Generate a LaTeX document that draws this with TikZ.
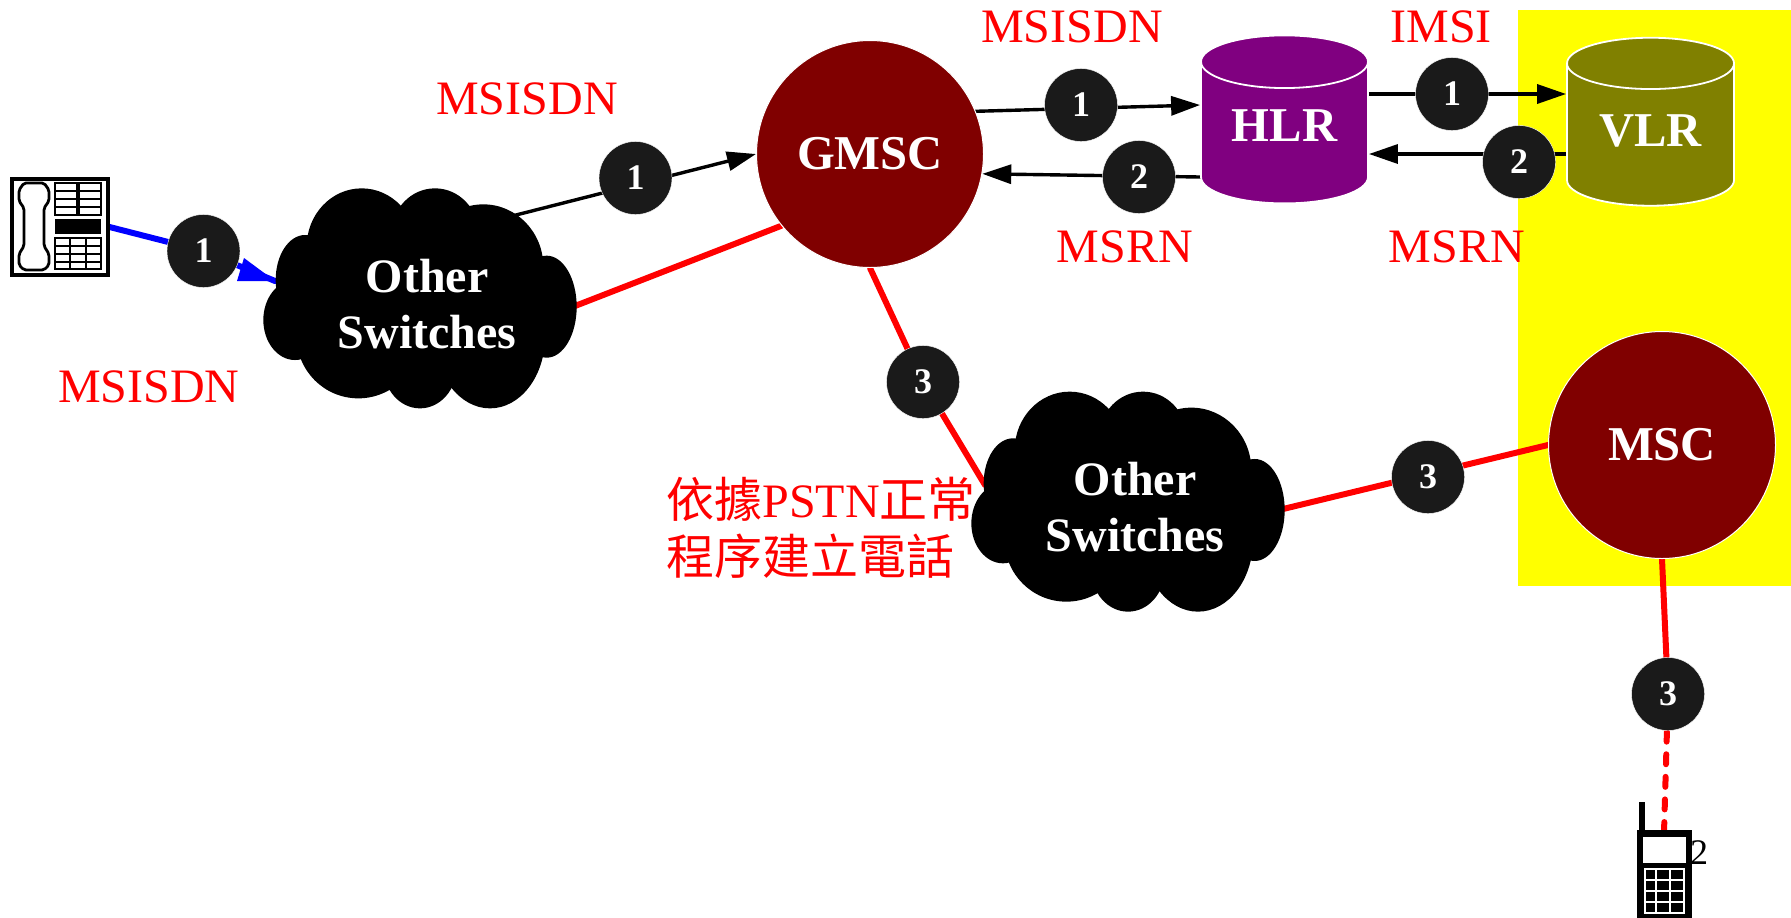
\documentclass[tikz,border=0pt]{standalone}
\usepackage{fontspec}
\setmainfont{Liberation Serif}
\newfontfamily\cjk{Noto Sans CJK TC}
\usetikzlibrary{shapes.geometric,arrows.meta}
\definecolor{badgeblack}{HTML}{1A1A1A}
\definecolor{dkred}{HTML}{800000}
\definecolor{hlrpurple}{HTML}{800080}
\definecolor{vlrolive}{HTML}{808000}
\definecolor{pureyellow}{RGB}{255,255,0}
\definecolor{purered}{RGB}{255,0,0}
\definecolor{pureblue}{RGB}{0,0,255}
\pgfdeclarelayer{yellowlayer}
\pgfdeclarelayer{linelayer}
\pgfsetlayers{yellowlayer,linelayer,main}
\tikzset{
  x=0.5pt,y=-0.5pt,
  badge/.style={circle,fill=badgeblack,draw=white,line width=0.2pt,minimum size=36.5pt,inner sep=0pt,text=white,font=\fontsize{18}{18}\selectfont\bfseries},
  msc/.style={circle,fill=dkred,draw=white,line width=0.5pt,minimum size=113.5pt,inner sep=0pt,text=white,font=\fontsize{24.3}{24}\selectfont\bfseries},
  db/.style={cylinder,shape border rotate=90,shape aspect=0.5,draw=white,line width=0.9pt,minimum width=83.5pt,minimum height=84pt,inner sep=0pt,text=white,text depth=7pt,font=\fontsize{24.3}{24}\selectfont\bfseries},
  redlabel/.style={text=purered,font=\fontsize{24}{26}\selectfont,inner sep=0pt},
  cloudtext/.style={text=white,font=\fontsize{24}{28.3}\selectfont\bfseries,align=center,inner sep=0pt},
  blackarrow/.style={draw=black,line width=1.7pt,line cap=rect,-{Triangle[length=14.5pt,width=9.5pt]}},
  redline/.style={draw=purered,line width=3pt,line cap=round},
  blueline/.style={draw=pureblue,line width=3pt,line cap=round}
}
\newcommand{\cloudshape}[2]{%
  \begin{scope}[shift={(#1,#2)},x=0.16667pt,y=-0.16667pt]
  \fill[black]
    (500,380) ellipse[x radius=350,y radius=270]
    (335,230) ellipse[x radius=165,y radius=175]
    (555,190) ellipse[x radius=130,y radius=135]
    (700,290) ellipse[x radius=180,y radius=187]
    (165,330) ellipse[x radius=88,y radius=135]
    (135,450) ellipse[x radius=95,y radius=120]
    (890,410) ellipse[x radius=90,y radius=153]
    (325,500) ellipse[x radius=185,y radius=185]
    (510,590) ellipse[x radius=110,y radius=125]
    (720,500) ellipse[x radius=165,y radius=215];
  \end{scope}}
\begin{document}
\begin{tikzpicture}
\useasboundingbox (0,0) rectangle (1791,917);
\begin{pgfonlayer}{yellowlayer}
  \fill[pureyellow] (1518,10) rectangle (1791,586);
\end{pgfonlayer}

% clouds
\cloudshape{250}{170}
\cloudshape{958}{373.3}
\node[cloudtext] (cloudA) at (427,304) {Other\\Switches};
\node[cloudtext] (cloudB) at (1135,507) {Other\\Switches};
\coordinate (cloudAin) at (275,281);
\coordinate (cloudAout) at (516,215);
\coordinate (cloudAred) at (575,306);
\coordinate (cloudBin) at (985,485);
\coordinate (cloudBout) at (1283,509);

% main elements
\node[msc] (gmsc) at (870,154) {GMSC};
\node[msc] (msc) at (1662,445) {MSC};
\node[db,fill=hlrpurple] (hlr) at (1284.5,133) {HLR};
\node[db,fill=vlrolive,text depth=4pt] (vlr) at (1650.5,135) {VLR};

% desk phone
\node[draw=black,line width=1.6pt,fill=white,minimum width=48pt,minimum height=48pt,inner sep=0pt] (phone) at (60,227) {};
\begin{scope}[line width=1.4pt]
  \draw[rounded corners=1pt] (24,183) -- (44,183) -- (49,190) -- (49,201) -- (44,208) -- (44,246) -- (49,254) -- (49,265) -- (44,270) -- (24,270) -- (19,265) -- (19,254) -- (24,246) -- (24,208) -- (19,201) -- (19,190) -- cycle;
  \foreach \x in {55,79}{
    \draw (\x,183) rectangle (\x+22,215);
    \foreach \y in {191,199,207} \draw (\x,\y) -- (\x+22,\y);
  }
  \fill[black] (55,219) rectangle (101,234);
  \draw (55,238) rectangle (101,269);
  \foreach \y in {246,254,262} \draw (55,\y) -- (101,\y);
  \foreach \x in {70,86} \draw (\x,238) -- (\x,269);
\end{scope}

% mobile
\node[text=black,font=\fontsize{18}{18}\selectfont,inner sep=0pt] (mobnum) at (1699,853) {2};
\fill[black] (1639,802) rectangle (1645,832);
\node[fill=black,minimum width=27.5pt,minimum height=44pt,inner sep=0pt,anchor=north west] (mobile) at (1637,830) {};
\fill[white] (1643,837) rectangle (1686,863);
\draw[white,line width=0.6pt] (1645,869) rectangle (1684,913);
\foreach \x in {1656,1670} \draw[white,line width=0.6pt] (\x,869) -- (\x,913);
\foreach \y in {880,891,902} \draw[white,line width=0.6pt] (1645,\y) -- (1684,\y);
\coordinate (mobtop) at (1664,832);

% badges
\node[badge] (b1) at (203.5,251) {1};
\node[badge] (b2) at (635.5,178) {1};
\node[badge] (b3) at (1081,105) {1};
\node[badge] (b4) at (1139,177) {2};
\node[badge] (b5) at (1452,94) {1};
\node[badge] (b6) at (1519,162) {2};
\node[badge] (b7) at (923,382) {3};
\node[badge] (b8) at (1428,477) {3};
\node[badge] (b9) at (1668,694) {3};

% connectors
\coordinate (rowB) at (1450,154);
\begin{pgfonlayer}{linelayer}
  \draw[blueline] (phone.east) -- (b1) -- (cloudAin);
  \fill[pureblue] (244,258) -- (cloudAin) -- (237,281) -- cycle;
  \draw[blackarrow] (cloudAout) -- (gmsc.west);
  \draw[blackarrow] (gmsc.22) -- (hlr.west |- b3);
  \draw[blackarrow] (hlr.west |- b4) -- (gmsc.-10);
  \draw[blackarrow] (hlr.east |- b5) -- (vlr.west |- b5);
  \draw[blackarrow] (vlr.west |- rowB) -- (hlr.east |- rowB);
  \draw[redline] (cloudAred) -- (gmsc.219);
  \draw[redline] (gmsc.south) -- (b7) -- (cloudBin);
  \draw[redline] (cloudBout) -- (msc.west);
  \draw[redline] (msc.south) -- (b9);
  \draw[redline,dash pattern=on 5pt off 6.3pt] (mobtop) -- (b9);
\end{pgfonlayer}

% labels
\node[redlabel] (l1) at (527,99) {MSISDN};
\node[redlabel] (l2) at (1072,27) {MSISDN};
\node[redlabel] (l3) at (149,387) {MSISDN};
\node[redlabel] (l4) at (1441,27) {IMSI};
\node[redlabel] (l5) at (1125,247) {MSRN};
\node[redlabel] (l6) at (1457,247) {MSRN};
\node[redlabel,anchor=base west] (l7) at (666,517) {{\cjk 依據}PSTN{\cjk 正常}};
\node[redlabel,anchor=base west] (l8) at (666,574) {\cjk 程序建立電話};
\end{tikzpicture}
\end{document}
